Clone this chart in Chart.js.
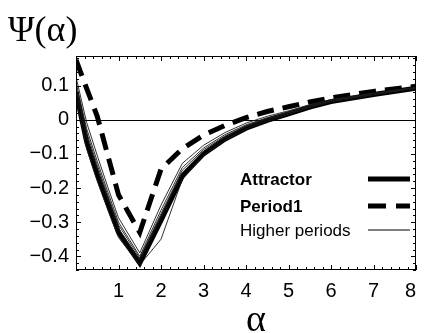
<!DOCTYPE html>
<html>
<head>
<meta charset="utf-8">
<script src="https://cdn.jsdelivr.net/npm/chart.js@4/dist/chart.umd.min.js"></script>
<style>
  html, body { margin: 0; padding: 0; background: #fff; }
  #wrap { position: relative; width: 425px; height: 333px; }
</style>
</head>
<body>
<div id="wrap"><canvas id="c" width="425" height="333"></canvas></div>
<script>
// Sample points along alpha
const alpha = [0, 0.25, 0.5, 0.75, 1, 1.5, 2, 2.5, 3, 3.5, 4, 4.5, 5, 5.5, 6, 7, 8];

// Psi(alpha) for the attractor
const attractor = [0.08, -0.065, -0.16, -0.245, -0.33, -0.42, -0.295, -0.165, -0.1, -0.057, -0.025, -0.002, 0.017, 0.037, 0.053, 0.074, 0.092];

// Psi(alpha) for the period-1 orbit
const period1 = [0.175, 0.092, 0.01, -0.105, -0.22, -0.33, -0.145, -0.085, -0.045, -0.017, 0.006, 0.024, 0.038, 0.052, 0.064, 0.083, 0.098];

// Psi(alpha) for the higher-period orbits
const higher1 = [0.09, -0.05, -0.145, -0.232, -0.318, -0.412, -0.285, -0.155, -0.093, -0.052, -0.021, 0.001, 0.019, 0.039, 0.055, 0.075, 0.093];
const higher2 = [0.1, -0.038, -0.133, -0.222, -0.308, -0.405, -0.275, -0.148, -0.088, -0.048, -0.018, 0.004, 0.021, 0.04, 0.056, 0.076, 0.093];
const higher3 = [0.11, -0.026, -0.122, -0.212, -0.3, -0.4, -0.265, -0.14, -0.083, -0.044, -0.015, 0.006, 0.023, 0.042, 0.057, 0.077, 0.094];
const higher4 = [0.125, -0.008, -0.105, -0.198, -0.287, -0.39, -0.25, -0.128, -0.075, -0.038, -0.01, 0.01, 0.026, 0.044, 0.059, 0.078, 0.095];
const higher5 = [0.068, -0.085, -0.18, -0.265, -0.345, -0.425, -0.35, -0.175, -0.105, -0.06, -0.027, -0.004, 0.016, 0.036, 0.052, 0.073, 0.091];

// Axis ticks and labels
const xTicks = [0, 1, 2, 3, 4, 5, 6, 7, 8];
const yTicks = [-0.4, -0.3, -0.2, -0.1, 0, 0.1];
const xRange = [0, 8];
const yRange = [-0.44, 0.1865];

const legendItems = [
  { label: 'Attractor', bold: true, width: 5, dash: [] },
  { label: 'Period1', bold: true, width: 5, dash: [18, 10] },
  { label: 'Higher periods', bold: false, width: 1, dash: [] }
];

const toPoints = arr => alpha.map((a, i) => ({ x: a, y: arr[i] }));

const thin = arr => ({
  data: toPoints(arr), borderColor: '#1a1a1a', borderWidth: 0.9,
  pointRadius: 0, tension: 0, fill: false
});

const SANS = '"Liberation Sans", Arial, Helvetica, sans-serif';
const SERIF = '"Liberation Serif", "DejaVu Serif", serif';

function fmtY(v) {
  if (Math.abs(v) < 1e-9) return '0';
  return (v < 0 ? '\u2212' : '') + Math.abs(v).toFixed(1);
}

// Frame, inward ticks, zero line, axis titles and legend
const decorations = {
  id: 'decorations',
  beforeDatasetsDraw(chart) {
    const { ctx, chartArea: a, scales: { y } } = chart;
    const y0 = Math.round(y.getPixelForValue(0)) + 0.5;
    ctx.save();
    ctx.strokeStyle = '#000';
    ctx.lineWidth = 1;
    ctx.beginPath();
    ctx.moveTo(a.left, y0);
    ctx.lineTo(a.right, y0);
    ctx.stroke();
    ctx.restore();
  },
  afterDraw(chart) {
    const { ctx, chartArea: a, scales: { x, y } } = chart;
    ctx.save();
    ctx.strokeStyle = '#000';
    ctx.lineWidth = 1;
    ctx.strokeRect(a.left + 0.5, a.top + 0.5, a.right - a.left - 1, a.bottom - a.top - 1);

    ctx.beginPath();
    // x ticks every 0.2, major every 1
    for (let i = 0; i <= 40; i++) {
      const v = i * 0.2;
      const px = Math.round(x.getPixelForValue(v)) + 0.5;
      const len = (i % 5 === 0) ? 5 : 3;
      ctx.moveTo(px, a.bottom); ctx.lineTo(px, a.bottom - len);
      ctx.moveTo(px, a.top); ctx.lineTo(px, a.top + len);
    }
    // y ticks every 0.02, major every 0.1
    for (let i = -22; i <= 9; i++) {
      const v = i * 0.02;
      const py = Math.round(y.getPixelForValue(v)) + 0.5;
      const len = (i % 5 === 0) ? 5 : 3;
      ctx.moveTo(a.left, py); ctx.lineTo(a.left + len, py);
      ctx.moveTo(a.right, py); ctx.lineTo(a.right - len, py);
    }
    ctx.stroke();

    // axis titles
    ctx.fillStyle = '#000';
    ctx.textBaseline = 'alphabetic';
    ctx.font = '36px ' + SERIF;
    ctx.textAlign = 'left';
    ctx.fillText('\u03A8(\u03B1)', 8, 41);
    ctx.font = '38px ' + SERIF;
    ctx.textAlign = 'center';
    ctx.fillText('\u03B1', 256, 331);

    // legend: label on the left, line sample on the right
    const baselines = [185, 212, 236];
    legendItems.forEach((it, i) => {
      ctx.font = (it.bold ? 'bold ' : '') + '17px ' + SANS;
      ctx.textAlign = 'left';
      ctx.fillText(it.label, 240, baselines[i]);
      const ly = baselines[i] - 6;
      ctx.beginPath();
      ctx.lineWidth = it.width;
      ctx.setLineDash(it.dash);
      ctx.lineCap = 'butt';
      ctx.moveTo(368, ly);
      ctx.lineTo(410, ly);
      ctx.stroke();
    });
    ctx.restore();
  }
};

new Chart(document.getElementById('c'), {
  type: 'line',
  data: {
    datasets: [
      thin(higher1), thin(higher2), thin(higher3), thin(higher4), thin(higher5),
      { data: toPoints(attractor), borderColor: '#000', borderWidth: 5, pointRadius: 0, tension: 0, fill: false, borderJoinStyle: 'miter' },
      { data: toPoints(period1), borderColor: '#000', borderWidth: 5, borderDash: [17, 9], pointRadius: 0, tension: 0, fill: false }
    ]
  },
  options: {
    responsive: false,
    animation: false,
    devicePixelRatio: 1,
    layout: { padding: { top: 56, right: 3, left: 0, bottom: 0 } },
    plugins: { legend: { display: false }, title: { display: false }, tooltip: { enabled: false } },
    scales: {
      x: {
        type: 'linear', min: xRange[0], max: xRange[1],
        grid: { display: false, drawTicks: false },
        border: { display: false },
        afterBuildTicks: s => { s.ticks = xTicks.map(v => ({ value: v })); },
        afterFit: s => { s.height = 63; },
        ticks: {
          color: '#000', padding: 9, align: 'inner', maxRotation: 0, autoSkip: false,
          font: { family: SANS, size: 20 },
          callback: v => (v === 0 ? '' : String(v))
        }
      },
      y: {
        type: 'linear', min: yRange[0], max: yRange[1],
        grid: { display: false, drawTicks: false },
        border: { display: false },
        afterBuildTicks: s => { s.ticks = yTicks.map(v => ({ value: v })); },
        afterFit: s => { s.width = 76; },
        ticks: {
          color: '#000', padding: 7, autoSkip: false,
          font: { family: SANS, size: 20 },
          callback: v => fmtY(v)
        }
      }
    }
  },
  plugins: [decorations]
});
</script>
</body>
</html>
